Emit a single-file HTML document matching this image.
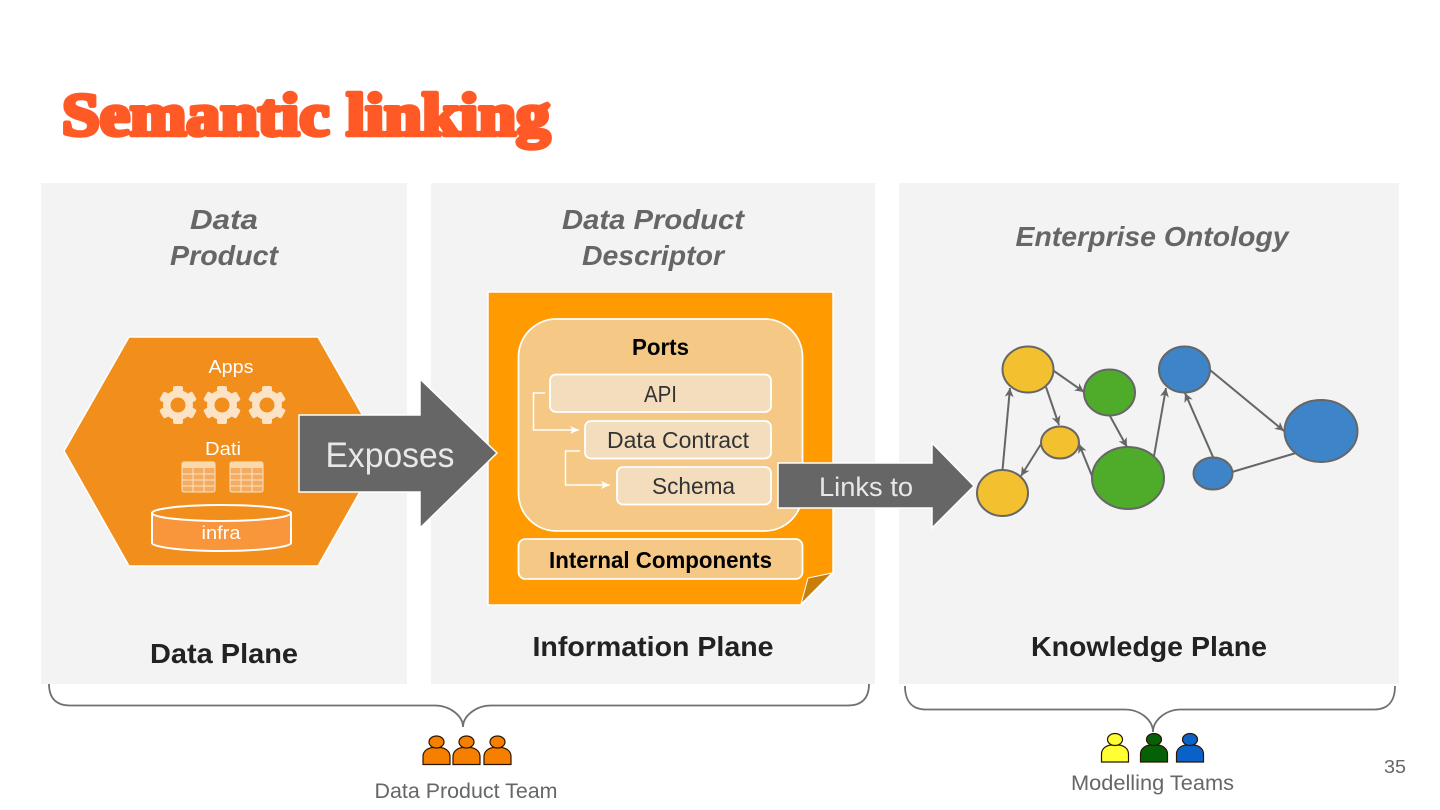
<!DOCTYPE html>
<html><head><meta charset="utf-8"><style>
html,body{margin:0;padding:0;background:#fff;width:1440px;height:810px;overflow:hidden}
svg{display:block}
text{font-family:"Liberation Sans",sans-serif}
text.t{font-family:"Liberation Serif",serif}
</style></head><body>
<svg width="1440" height="810" viewBox="0 0 1440 810" xmlns="http://www.w3.org/2000/svg">
<defs>
<marker id="a" markerWidth="10" markerHeight="9" refX="9" refY="4.500" orient="auto" markerUnits="userSpaceOnUse"><path d="M0 0L9 4.500L0 9L2.500 4.500Z" fill="#666"/></marker>
<marker id="w" markerWidth="10" markerHeight="8" refX="9" refY="4" orient="auto" markerUnits="userSpaceOnUse"><path d="M0 0L9 4L0 8L2.500 4Z" fill="#fff"/></marker>
<g id="gear">
<circle r="15" fill="#fde3c5"/>
<g fill="#fde3c5">
<rect x="-5" y="-19" width="10" height="8" rx="2"/>
<rect x="-5" y="-19" width="10" height="8" rx="2" transform="rotate(60)"/>
<rect x="-5" y="-19" width="10" height="8" rx="2" transform="rotate(120)"/>
<rect x="-5" y="-19" width="10" height="8" rx="2" transform="rotate(180)"/>
<rect x="-5" y="-19" width="10" height="8" rx="2" transform="rotate(240)"/>
<rect x="-5" y="-19" width="10" height="8" rx="2" transform="rotate(300)"/>
</g>
<circle r="7.500" fill="#f18e1c"/>
</g>
<g id="tbl">
<rect x="0" y="0" width="33" height="30" rx="2" fill="#f4ac62" stroke="#fde3c5"/>
<rect x="0" y="0" width="33" height="6" rx="2" fill="#fbd9ad"/>
<path d="M0 12H33M0 18H33M0 24H33M11 6V30M22 6V30" stroke="#fde3c5" fill="none"/>
</g>
<g id="person">
<path d="M-13.500 0V-8C-13.500-14-8-16.500-4-17H4C8-16.500 13.500-14 13.500-8V0Z" stroke="#2a1500" stroke-width="1.200"/>
<ellipse cx="0" cy="-22.500" rx="7.500" ry="6" stroke="#2a1500" stroke-width="1.200"/>
</g>
</defs>

<text class="t" x="62" y="135" font-size="60" font-weight="700" fill="#ff5a26" stroke="#ff5a26" stroke-width="4.500" stroke-linejoin="round" textLength="488" lengthAdjust="spacingAndGlyphs">Semantic linking</text>

<rect x="41" y="183" width="366" height="501" fill="#f3f3f3"/>
<rect x="431" y="183" width="444" height="501" fill="#f3f3f3"/>
<rect x="899" y="183" width="500" height="501" fill="#f3f3f3"/>

<g font-size="28" font-weight="700" font-style="italic" fill="#666" text-anchor="middle">
<text x="224" y="229" textLength="68" lengthAdjust="spacingAndGlyphs">Data</text>
<text x="224" y="265" textLength="108" lengthAdjust="spacingAndGlyphs">Product</text>
<text x="653" y="229" textLength="182" lengthAdjust="spacingAndGlyphs">Data Product</text>
<text x="653" y="265" textLength="142" lengthAdjust="spacingAndGlyphs">Descriptor</text>
<text x="1152" y="246" textLength="273" lengthAdjust="spacingAndGlyphs">Enterprise Ontology</text>
</g>

<!-- Hexagon -->
<polygon points="64,451 129,337 318,337 383,451 318,566 129,566" fill="#f18e1c" stroke="#fff" stroke-width="1.500"/>
<text x="231" y="373" font-size="18" fill="#fff" text-anchor="middle" textLength="45" lengthAdjust="spacingAndGlyphs">Apps</text>
<use href="#gear" x="178" y="405"/><use href="#gear" x="222" y="405"/><use href="#gear" x="267" y="405"/>
<text x="223" y="455" font-size="18" fill="#fff" text-anchor="middle" textLength="36" lengthAdjust="spacingAndGlyphs">Dati</text>
<use href="#tbl" x="182" y="462"/><use href="#tbl" x="230" y="462"/>
<path d="M152 513V543C152 547 183 551 221 551C259 551 291 547 291 543V513" fill="#f9963c" stroke="#fff" stroke-width="2"/>
<ellipse cx="221.500" cy="513" rx="69.500" ry="8" fill="#f18e1c" stroke="#fff" stroke-width="2"/>
<text x="221" y="539" font-size="18" fill="#fff" text-anchor="middle" textLength="39" lengthAdjust="spacingAndGlyphs">infra</text>

<!-- Document -->
<polygon points="488,292 833,292 833,573 801,605 488,605" fill="#ff9a00" stroke="#fff" stroke-width="1.500"/>
<polygon points="801,604 808,578 832,573" fill="#c87f0a" stroke="#fff" stroke-width="1"/>
<rect x="518.500" y="319" width="284" height="212" rx="38" fill="#f6c885" stroke="#fff" stroke-width="1.800"/>
<text x="660.500" y="355" font-size="23" font-weight="700" fill="#000" text-anchor="middle" textLength="57" lengthAdjust="spacingAndGlyphs">Ports</text>
<rect x="550" y="374.500" width="221" height="37.500" rx="6" fill="#f3ddbd" stroke="#fff" stroke-width="1.800"/>
<rect x="585" y="421" width="186" height="37.500" rx="6" fill="#f3ddbd" stroke="#fff" stroke-width="1.800"/>
<rect x="617" y="467" width="154" height="37.500" rx="6" fill="#f3ddbd" stroke="#fff" stroke-width="1.800"/>
<g font-size="23" fill="#333" text-anchor="middle">
<text x="660.500" y="402" textLength="33" lengthAdjust="spacingAndGlyphs">API</text>
<text x="678" y="448" textLength="142" lengthAdjust="spacingAndGlyphs">Data Contract</text>
<text x="693.500" y="494" textLength="83" lengthAdjust="spacingAndGlyphs">Schema</text>
</g>
<path d="M545 393H533.500V430H579" fill="none" stroke="#fff" stroke-width="1.500" marker-end="url(#w)"/>
<path d="M580 451H565.500V485H610" fill="none" stroke="#fff" stroke-width="1.500" marker-end="url(#w)"/>
<rect x="518.500" y="539" width="284" height="40" rx="7" fill="#f6c885" stroke="#fff" stroke-width="1.800"/>
<text x="660.500" y="568" font-size="23" font-weight="700" fill="#000" text-anchor="middle" textLength="223" lengthAdjust="spacingAndGlyphs">Internal Components</text>

<!-- Arrows -->
<polygon points="299,415 420,415 420,379 497,453 420,528 420,492 299,492" fill="#666" stroke="#fff" stroke-width="1.500"/>
<text x="390" y="467" font-size="35" fill="#e8e8e8" text-anchor="middle" textLength="129" lengthAdjust="spacingAndGlyphs">Exposes</text>
<polygon points="778,463 932,463 932,443 974,486 932,528 932,508 778,508" fill="#666" stroke="#fff" stroke-width="1.500"/>
<text x="866" y="496" font-size="27" fill="#e8e8e8" text-anchor="middle" textLength="94" lengthAdjust="spacingAndGlyphs">Links to</text>

<!-- Graph -->
<g stroke="#666" stroke-width="2" fill="none">
<path d="M1002.500 470L1010 388" marker-end="url(#a)"/>
<path d="M1046 387L1059 425" marker-end="url(#a)"/>
<path d="M1054 371L1084 392" marker-end="url(#a)"/>
<path d="M1110 416L1127 447" marker-end="url(#a)"/>
<path d="M1092 476L1079 444" marker-end="url(#a)"/>
<path d="M1041 444L1021 476" marker-end="url(#a)"/>
<path d="M1154 456L1166 388" marker-end="url(#a)"/>
<path d="M1213 457L1185 393" marker-end="url(#a)"/>
<path d="M1210 370L1284 431" marker-end="url(#a)"/>
<path d="M1232 472L1296 453"/>
</g>
<g stroke="#666" stroke-width="2">
<ellipse cx="1028" cy="369.500" rx="25.500" ry="23" fill="#f3c030"/>
<ellipse cx="1109.500" cy="392.500" rx="25.500" ry="23" fill="#4fab2a"/>
<ellipse cx="1184.500" cy="369.500" rx="25.500" ry="23" fill="#3e84c8"/>
<ellipse cx="1321" cy="431" rx="36.500" ry="31" fill="#3e84c8"/>
<ellipse cx="1060" cy="442.500" rx="19" ry="16" fill="#f3c030"/>
<ellipse cx="1128" cy="478" rx="36" ry="31" fill="#4fab2a"/>
<ellipse cx="1213" cy="473.500" rx="19.500" ry="16" fill="#3e84c8"/>
<ellipse cx="1002.500" cy="493" rx="25.500" ry="23" fill="#f3c030"/>
</g>

<!-- Plane labels -->
<g font-size="28" font-weight="700" fill="#222" text-anchor="middle">
<text x="224" y="663" textLength="148" lengthAdjust="spacingAndGlyphs">Data Plane</text>
<text x="653" y="656" textLength="241" lengthAdjust="spacingAndGlyphs">Information Plane</text>
<text x="1149" y="656" textLength="236" lengthAdjust="spacingAndGlyphs">Knowledge Plane</text>
</g>

<!-- Braces -->
<path d="M49 684C49 698 56 705.500 70 705.500H435C450 705.500 463 716 463 727C463 716 476 705.500 491 705.500H848C862 705.500 869 698 869 684" fill="none" stroke="#707070" stroke-width="1.800"/>
<path d="M905 686C905 701 912 709.500 926 709.500H1125C1140 709.500 1153 720 1153 732C1153 720 1166 709.500 1181 709.500H1374C1388 709.500 1395 701 1395 686" fill="none" stroke="#707070" stroke-width="1.800"/>

<!-- People -->
<g fill="#f77f00">
<use href="#person" x="436.500" y="764.500"/><use href="#person" x="466.500" y="764.500"/><use href="#person" x="497.500" y="764.500"/>
</g>
<use href="#person" x="1115" y="762" fill="#ffff33"/>
<use href="#person" x="1154" y="762" fill="#056105"/>
<use href="#person" x="1190" y="762" fill="#0a62c8"/>

<text x="466" y="798" font-size="21" fill="#666" text-anchor="middle" textLength="183" lengthAdjust="spacingAndGlyphs">Data Product Team</text>
<text x="1152.500" y="790" font-size="21" fill="#666" text-anchor="middle" textLength="163" lengthAdjust="spacingAndGlyphs">Modelling Teams</text>
<text x="1395" y="773" font-size="18" fill="#666" text-anchor="middle" textLength="22" lengthAdjust="spacingAndGlyphs">35</text>
</svg>
</body></html>
